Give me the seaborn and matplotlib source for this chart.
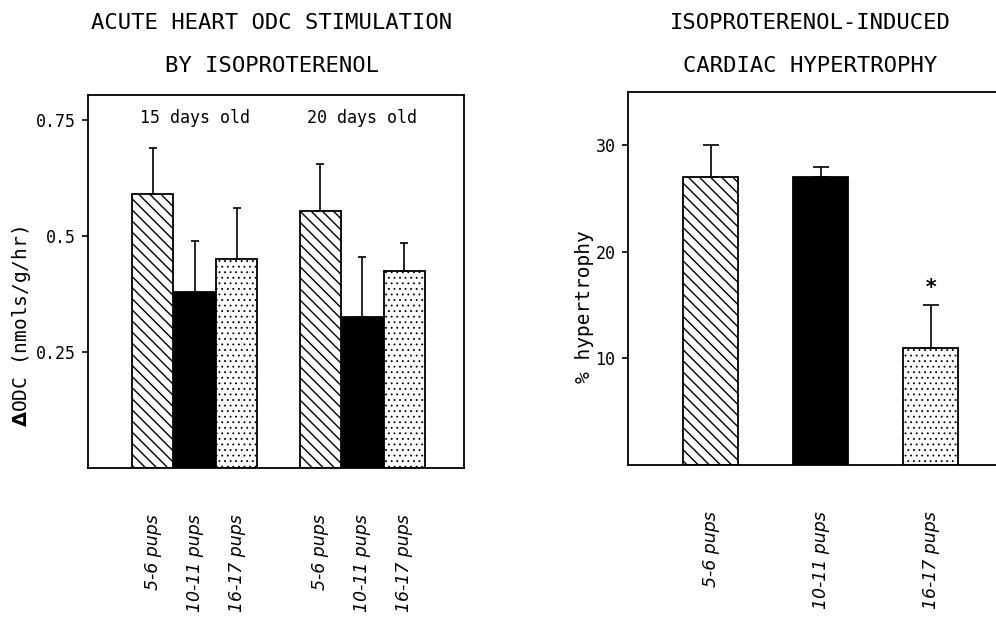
import matplotlib
matplotlib.use('Agg')
import matplotlib.pyplot as plt
import seaborn as sns
import numpy as np

# ---------------- data ----------------
odc_group_names = ['15 days old', '20 days old']
odc_group_centers = [1, 5]
odc_labels = ['5-6 pups', '10-11 pups', '16-17 pups', '5-6 pups', '10-11 pups', '16-17 pups']
odc_pos = [0, 1, 2, 4, 5, 6]
odc_mean = [0.59, 0.38, 0.45, 0.555, 0.325, 0.425]
odc_err = [0.10, 0.11, 0.11, 0.10, 0.13, 0.06]
odc_yticks = [0.25, 0.5, 0.75]
odc_yticklabels = ['0.25', '0.5', '0.75']

hyp_labels = ['5-6 pups', '10-11 pups', '16-17 pups']
hyp_mean = [27, 27, 11]
hyp_err = [3, 1, 4]
hyp_yticks = [10, 20, 30]
hyp_signif = [False, False, True]

bar_styles = ['hatch', 'solid', 'dots']

# ---------------- style ----------------
sns.set_theme(style='white')
plt.rcParams['font.family'] = ['DejaVu Sans Mono', 'DejaVu Sans']
plt.rcParams['hatch.linewidth'] = 1.0
plt.rcParams['hatch.color'] = 'black'

fig = plt.figure(figsize=(9.96, 6.18), dpi=100)
ax1 = fig.add_axes([88/996, (618-468)/618, (464-88)/996, (468-95)/618])
ax2 = fig.add_axes([628/996, (618-465)/618, (996-628)/996 + 0.01, (465-92)/618])


def style_bars(ax, n):
    for i, p in enumerate(ax.patches[:n]):
        s = bar_styles[i % 3]
        p.set_edgecolor('black')
        p.set_linewidth(1.3)
        if s == 'hatch':
            p.set_facecolor('white')
            p.set_hatch('\\\\\\')
        elif s == 'solid':
            p.set_facecolor('black')
        else:
            p.set_facecolor('white')
            p.set_hatch('...')
            try:
                p.set_hatch_linewidth(0.6)
            except AttributeError:
                pass


# ---------------- left panel ----------------
sns.barplot(x=odc_pos, y=odc_mean, native_scale=True, width=0.97,
            color='white', errorbar=None, ax=ax1)
style_bars(ax1, len(odc_pos))
ax1.errorbar(odc_pos, odc_mean, yerr=[np.zeros(len(odc_err)), odc_err],
             fmt='none', ecolor='black', elinewidth=1.2, capsize=3, capthick=1.2, zorder=3)
ax1.set_xlim(-1.536, 7.417)
ax1.set_ylim(0, 0.804)
ax1.set_xticks(odc_pos)
ax1.set_xticklabels(odc_labels, rotation=90, fontstyle='italic',
                    family='DejaVu Sans', fontsize=12.5)
ax1.set_yticks(odc_yticks)
ax1.set_yticklabels(odc_yticklabels, fontsize=12)
ax1.tick_params(axis='x', length=0, pad=33, colors='black')
ax1.tick_params(axis='y', left=True, length=4, width=1.2, direction='out', pad=5, colors='black')
for sp in ax1.spines.values():
    sp.set_visible(True)
    sp.set_color('black')
    sp.set_linewidth(1.3)
for name, cx in zip(odc_group_names, odc_group_centers):
    ax1.text(cx, 0.754, name, ha='center', va='center', fontsize=12, color='black')
ax1.set_xlabel('')
ax1.set_ylabel(r'$\mathbf{\Delta}$ODC (nmols/g/hr)', fontsize=14, color='black')
ax1.yaxis.label.set_verticalalignment('center')
ax1.yaxis.set_label_coords(-0.176, 0.378)

# ---------------- right panel ----------------
sns.barplot(x=hyp_labels, y=hyp_mean, width=0.5, color='white', errorbar=None, ax=ax2)
style_bars(ax2, len(hyp_labels))
hx = np.arange(len(hyp_labels))
ax2.errorbar(hx, hyp_mean, yerr=[np.zeros(len(hyp_err)), hyp_err],
             fmt='none', ecolor='black', elinewidth=1.2, capsize=5.5, capthick=1.2, zorder=3)
for x, m, e, s in zip(hx, hyp_mean, hyp_err, hyp_signif):
    if s:
        ax2.text(x, m + e + 1.6, '*', ha='center', va='center', fontsize=15,
                 fontweight='bold', color='black')
ax2.set_xlim(-0.75, 2.657 + 0.027)
ax2.set_ylim(0, 35)
ax2.set_xticks(hx)
ax2.set_xticklabels(hyp_labels, rotation=90, fontstyle='italic',
                    family='DejaVu Sans', fontsize=12.5)
ax2.set_yticks(hyp_yticks)
ax2.set_yticklabels([str(t) for t in hyp_yticks], fontsize=12)
ax2.tick_params(axis='x', length=0, pad=33, colors='black')
ax2.tick_params(axis='y', left=True, length=4, width=1.2, direction='out', pad=5, colors='black')
for name, sp in ax2.spines.items():
    sp.set_color('black')
    sp.set_linewidth(1.3)
    sp.set_visible(name != 'right')
ax2.set_xlabel('')
ax2.set_ylabel('% hypertrophy', fontsize=14, color='black')
ax2.yaxis.label.set_verticalalignment('center')
ax2.yaxis.set_label_coords(-0.115, 0.424)

# ---------------- titles ----------------
fig.text(272/996, 1 - 23/618, 'ACUTE HEART ODC STIMULATION', ha='center', va='center', fontsize=16, color='black')
fig.text(272/996, 1 - 66/618, 'BY ISOPROTERENOL', ha='center', va='center', fontsize=16, color='black')
fig.text(810/996, 1 - 23/618, 'ISOPROTERENOL-INDUCED', ha='center', va='center', fontsize=16, color='black')
fig.text(810/996, 1 - 66/618, 'CARDIAC HYPERTROPHY', ha='center', va='center', fontsize=16, color='black')

fig.savefig('out.png', dpi=100, facecolor='white')
